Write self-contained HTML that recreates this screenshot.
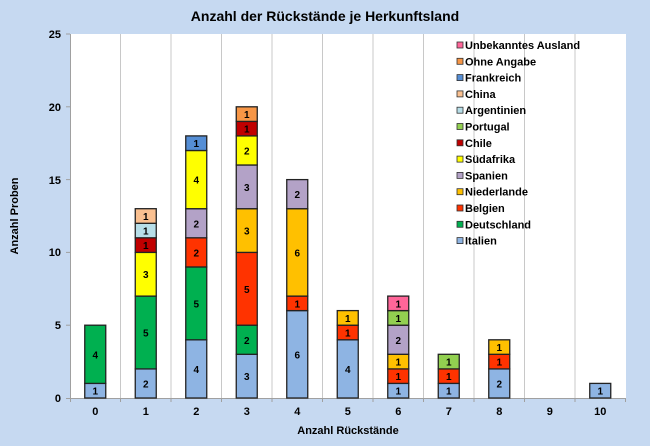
<!DOCTYPE html>
<html><head><meta charset="utf-8"><style>
body{margin:0;background:#C6D9F1;}
svg{display:block;font-family:"Liberation Sans",Arial,sans-serif;}
.l{font-size:10px;font-weight:bold;text-anchor:middle;fill:#000}
.t{font-size:11px;font-weight:bold;fill:#000}
</style></head><body>
<svg width="650" height="446" viewBox="0 0 650 446">
<rect width="650" height="446" fill="#C6D9F1"/>
<text x="325" y="21" text-anchor="middle" font-size="14" font-weight="bold">Anzahl der Rückstände je Herkunftsland</text>
<rect x="70.5" y="34" width="555.5" height="364" fill="#fff"/>
<g stroke="#c8c8c8" stroke-width="1">
<line x1="120.5" y1="34" x2="120.5" y2="398"/><line x1="171" y1="34" x2="171" y2="398"/><line x1="221.5" y1="34" x2="221.5" y2="398"/><line x1="272" y1="34" x2="272" y2="398"/><line x1="322.5" y1="34" x2="322.5" y2="398"/><line x1="373" y1="34" x2="373" y2="398"/><line x1="423.5" y1="34" x2="423.5" y2="398"/><line x1="474" y1="34" x2="474" y2="398"/><line x1="524.5" y1="34" x2="524.5" y2="398"/><line x1="575" y1="34" x2="575" y2="398"/>
</g>
<g stroke="#a0a0a0" stroke-width="1">
<line x1="70.5" y1="34" x2="70.5" y2="398"/><line x1="66" y1="398.5" x2="626" y2="398.5"/>
<line x1="66" y1="34" x2="70" y2="34"/><line x1="66" y1="106.8" x2="70" y2="106.8"/><line x1="66" y1="179.6" x2="70" y2="179.6"/><line x1="66" y1="252.4" x2="70" y2="252.4"/><line x1="66" y1="325.2" x2="70" y2="325.2"/>
<line x1="70.5" y1="398" x2="70.5" y2="402"/><line x1="120.5" y1="398" x2="120.5" y2="402"/><line x1="171" y1="398" x2="171" y2="402"/><line x1="221.5" y1="398" x2="221.5" y2="402"/><line x1="272" y1="398" x2="272" y2="402"/><line x1="322.5" y1="398" x2="322.5" y2="402"/><line x1="373" y1="398" x2="373" y2="402"/><line x1="423.5" y1="398" x2="423.5" y2="402"/><line x1="474" y1="398" x2="474" y2="402"/><line x1="524.5" y1="398" x2="524.5" y2="402"/><line x1="575" y1="398" x2="575" y2="402"/><line x1="625.5" y1="398" x2="625.5" y2="402"/>
</g>
<g class="t" text-anchor="end">
<text x="61" y="38">25</text><text x="61" y="111">20</text><text x="61" y="184">15</text><text x="61" y="256">10</text><text x="61" y="329">5</text><text x="61" y="402">0</text>
</g>
<g class="t" text-anchor="middle">
<text x="95.25" y="415">0</text><text x="145.75" y="415">1</text><text x="196.25" y="415">2</text><text x="246.75" y="415">3</text><text x="297.25" y="415">4</text><text x="347.75" y="415">5</text><text x="398.25" y="415">6</text><text x="448.75" y="415">7</text><text x="499.25" y="415">8</text><text x="549.75" y="415">9</text><text x="600.25" y="415">10</text>
</g>
<text class="t" x="348" y="434" text-anchor="middle">Anzahl Rückstände</text>
<text class="t" transform="translate(18,216) rotate(-90)" text-anchor="middle">Anzahl Proben</text>

<g stroke="#222" stroke-width="1.3">
<g transform="translate(84.75,0)">
<rect y="383.4" width="21" height="14.6" fill="#8EB4E3"/><rect y="325.2" width="21" height="58.2" fill="#00B050"/></g>
<g transform="translate(135.25,0)">
<rect y="368.9" width="21" height="29.1" fill="#8EB4E3"/><rect y="296.1" width="21" height="72.8" fill="#00B050"/><rect y="252.4" width="21" height="43.7" fill="#FFFF00"/><rect y="237.8" width="21" height="14.6" fill="#C00000"/><rect y="223.3" width="21" height="14.5" fill="#B7DEE8"/><rect y="208.7" width="21" height="14.6" fill="#FAC090"/></g>
<g transform="translate(185.75,0)">
<rect y="339.8" width="21" height="58.2" fill="#8EB4E3"/><rect y="266.96" width="21" height="72.84" fill="#00B050"/><rect y="237.8" width="21" height="29.16" fill="#FF3300"/><rect y="208.7" width="21" height="29.1" fill="#B3A2C7"/><rect y="150.5" width="21" height="58.2" fill="#FFFF00"/><rect y="135.9" width="21" height="14.6" fill="#558ED5"/></g>
<g transform="translate(236.25,0)">
<rect y="354.3" width="21" height="43.7" fill="#8EB4E3"/><rect y="325.2" width="21" height="29.1" fill="#00B050"/><rect y="252.4" width="21" height="72.8" fill="#FF3300"/><rect y="208.7" width="21" height="43.7" fill="#FFC000"/><rect y="165" width="21" height="43.7" fill="#B3A2C7"/><rect y="135.9" width="21" height="29.1" fill="#FFFF00"/><rect y="121.4" width="21" height="14.5" fill="#C00000"/><rect y="106.8" width="21" height="14.6" fill="#F79646"/></g>
<g transform="translate(286.75,0)">
<rect y="310.6" width="21" height="87.4" fill="#8EB4E3"/><rect y="296.1" width="21" height="14.5" fill="#FF3300"/><rect y="208.7" width="21" height="87.4" fill="#FFC000"/><rect y="179.6" width="21" height="29.1" fill="#B3A2C7"/></g>
<g transform="translate(337.25,0)">
<rect y="339.8" width="21" height="58.2" fill="#8EB4E3"/><rect y="325.2" width="21" height="14.6" fill="#FF3300"/><rect y="310.6" width="21" height="14.6" fill="#FFC000"/></g>
<g transform="translate(387.75,0)">
<rect y="383.4" width="21" height="14.6" fill="#8EB4E3"/><rect y="368.9" width="21" height="14.5" fill="#FF3300"/><rect y="354.3" width="21" height="14.6" fill="#FFC000"/><rect y="325.2" width="21" height="29.1" fill="#B3A2C7"/><rect y="310.6" width="21" height="14.6" fill="#92D050"/><rect y="296.1" width="21" height="14.5" fill="#FF6699"/></g>
<g transform="translate(438.25,0)">
<rect y="383.4" width="21" height="14.6" fill="#8EB4E3"/><rect y="368.9" width="21" height="14.5" fill="#FF3300"/><rect y="354.3" width="21" height="14.6" fill="#92D050"/></g>
<g transform="translate(488.75,0)">
<rect y="368.9" width="21" height="29.1" fill="#8EB4E3"/><rect y="354.3" width="21" height="14.6" fill="#FF3300"/><rect y="339.8" width="21" height="14.5" fill="#FFC000"/></g>
<g transform="translate(589.75,0)">
<rect y="383.4" width="21" height="14.6" fill="#8EB4E3"/></g>
</g>

<g class="l">
<text x="95.25" y="394.7">1</text><text x="95.25" y="358.3">4</text>
<text x="145.75" y="387.4">2</text><text x="145.75" y="336.5">5</text><text x="145.75" y="278.2">3</text><text x="145.75" y="249.1">1</text><text x="145.75" y="234.6">1</text><text x="145.75" y="220">1</text>
<text x="196.25" y="372.9">4</text><text x="196.25" y="307.4">5</text><text x="196.25" y="256.3">2</text><text x="196.25" y="227.3">2</text><text x="196.25" y="183.6">4</text><text x="196.25" y="147.2">1</text>
<text x="246.75" y="380.2">3</text><text x="246.75" y="343.8">2</text><text x="246.75" y="292.8">5</text><text x="246.75" y="234.6">3</text><text x="246.75" y="190.9">3</text><text x="246.75" y="154.7">2</text><text x="246.75" y="132.6">1</text><text x="246.75" y="118">1</text>
<text x="297.25" y="358.3">6</text><text x="297.25" y="307.4">1</text><text x="297.25" y="256.3">6</text><text x="297.25" y="198.2">2</text>
<text x="347.75" y="372.9">4</text><text x="347.75" y="336.5">1</text><text x="347.75" y="321.9">1</text>
<text x="398.25" y="394.7">1</text><text x="398.25" y="380.2">1</text><text x="398.25" y="365.6">1</text><text x="398.25" y="343.8">2</text><text x="398.25" y="321.9">1</text><text x="398.25" y="307.4">1</text>
<text x="448.75" y="394.7">1</text><text x="448.75" y="380.2">1</text><text x="448.75" y="365.6">1</text>
<text x="499.25" y="387.4">2</text><text x="499.25" y="365.6">1</text><text x="499.25" y="351">1</text>
<text x="600.25" y="394.7">1</text>
</g>

<g stroke="#333" stroke-width="0.8">
<rect x="457" y="42" width="6" height="6" fill="#FF6699"/>
<rect x="457" y="58.3" width="6" height="6" fill="#F79646"/>
<rect x="457" y="74.6" width="6" height="6" fill="#558ED5"/>
<rect x="457" y="90.9" width="6" height="6" fill="#FAC090"/>
<rect x="457" y="107.2" width="6" height="6" fill="#B7DEE8"/>
<rect x="457" y="123.5" width="6" height="6" fill="#92D050"/>
<rect x="457" y="139.8" width="6" height="6" fill="#C00000"/>
<rect x="457" y="156.1" width="6" height="6" fill="#FFFF00"/>
<rect x="457" y="172.4" width="6" height="6" fill="#B3A2C7"/>
<rect x="457" y="188.7" width="6" height="6" fill="#FFC000"/>
<rect x="457" y="205" width="6" height="6" fill="#FF3300"/>
<rect x="457" y="221.3" width="6" height="6" fill="#00B050"/>
<rect x="457" y="237.6" width="6" height="6" fill="#8EB4E3"/>
</g>
<g class="t">
<text x="465" y="49">Unbekanntes Ausland</text>
<text x="465" y="65.3">Ohne Angabe</text>
<text x="465" y="81.6">Frankreich</text>
<text x="465" y="97.9">China</text>
<text x="465" y="114.2">Argentinien</text>
<text x="465" y="130.5">Portugal</text>
<text x="465" y="146.8">Chile</text>
<text x="465" y="163.1">Südafrika</text>
<text x="465" y="179.4">Spanien</text>
<text x="465" y="195.7">Niederlande</text>
<text x="465" y="212">Belgien</text>
<text x="465" y="228.3">Deutschland</text>
<text x="465" y="244.6">Italien</text>
</g>
</svg>
</body></html>
